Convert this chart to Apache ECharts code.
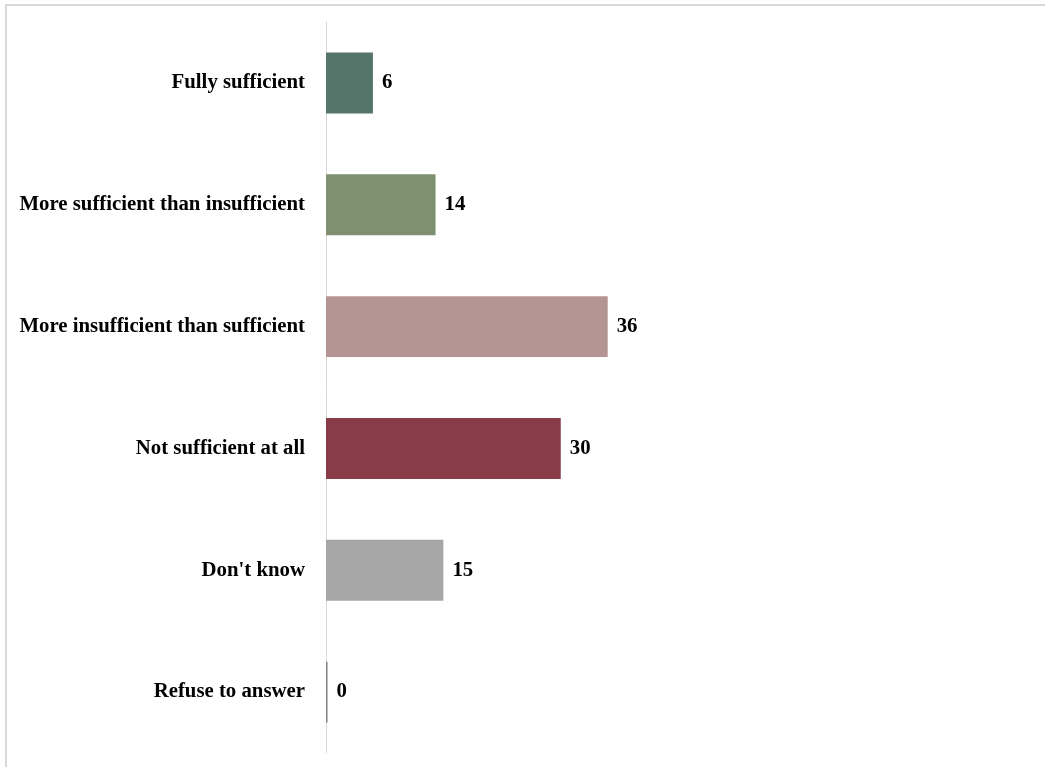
<!DOCTYPE html>
<html>
<head>
<meta charset="utf-8">
<script src="https://cdn.jsdelivr.net/npm/echarts@6/dist/echarts.min.js"></script>
<style>
html,body{margin:0;padding:0;background:#fff;}
#frame{position:absolute;left:5px;top:4px;width:1045px;height:767px;border-top:2px solid #d9d9d9;border-left:2px solid #d9d9d9;box-sizing:border-box;}
#chart{position:absolute;left:0;top:0;width:1045px;height:767px;}
</style>
</head>
<body>
<div id="frame"></div>
<div id="chart"></div>
<script>
const categories = ["Fully sufficient","More sufficient than insufficient","More insufficient than sufficient","Not sufficient at all","Don't know","Refuse to answer"];
const values = [6, 14, 36, 30, 15, 0];
const barColors = ["#56756a","#7f9071","#b59593","#873c48","#a7a7a7","#7f7f7f"];

const chart = echarts.init(document.getElementById('chart'), null, {renderer:'canvas'});
const fontFamily = '"Liberation Serif", "DejaVu Serif", serif';
chart.setOption({
  animation:false,
  backgroundColor:'transparent',
  grid:{left:326, right:406, top:22, bottom:14, containLabel:false},
  xAxis:{type:'value', min:0, max:40, show:false, splitLine:{show:false}},
  yAxis:{
    type:'category', data:categories, inverse:true,
    axisLine:{show:true, lineStyle:{color:'#d9d9d9', width:1}},
    axisTick:{show:false},
    axisLabel:{margin:21, color:'#000', fontFamily:fontFamily, fontWeight:'bold', fontSize:20.8}
  },
  series:[{
    type:'bar',
    barWidth:'50%',
    barMinHeight:1.5,
    data: values.map((v,i)=>({value:v, itemStyle:{color:barColors[i]}})),
    label:{show:true, position:'right', distance:9, color:'#000', fontFamily:fontFamily, fontWeight:'bold', fontSize:20.8}
  }]
});
</script>
</body>
</html>
